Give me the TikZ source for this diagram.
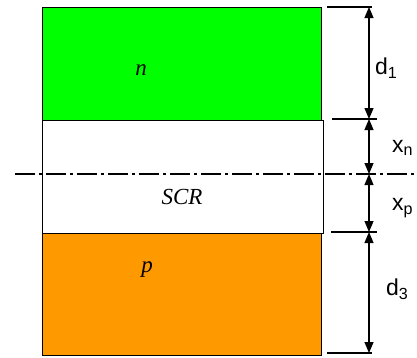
\documentclass[tikz,border=0pt]{standalone}
\usepackage{fontspec}
\setmainfont{Liberation Serif}
\newfontfamily\arial{Liberation Sans}
\usetikzlibrary{arrows.meta,positioning}
\definecolor{ngreen}{RGB}{0,255,0}
\definecolor{porange}{RGB}{255,153,0}

\begin{document}
\begin{tikzpicture}[x=1pt,y=-1pt,
 layer/.style={draw=black,line width=1.4pt,anchor=north west,inner sep=0pt},
 reglab/.style={font=\fontsize{23}{25}\selectfont\itshape,inner sep=0pt},
 dimlab/.style={font=\arial\fontsize{23}{25}\selectfont,inner sep=0pt,anchor=west},
 ext/.style={line width=1.3pt},
 dim/.style={line width=1.2pt,{Triangle[length=11pt,width=9pt]}-{Triangle[length=11pt,width=9pt]}}]
\useasboundingbox (0,0) rectangle (417,357);
% layers
\node[layer,fill=ngreen,minimum width=279pt,minimum height=113pt] (nreg) at (42,7) {};
\node[layer,fill=white,minimum width=281pt,minimum height=113pt] (scr) at (42,120) {};
\node[layer,fill=porange,minimum width=279pt,minimum height=122pt] (preg) at (42,233) {};
\node[reglab] (nlab) at (141,70) {n};
\node[reglab] (scrlab) at (182,197) {SCR};
\node[reglab] (plab) at (147,270) {p};
% axis
\coordinate (axl) at (15,174);
\coordinate (axr) at (417,174);
\draw[line width=1.3pt,dash pattern=on 20pt off 4pt on 3pt off 4pt] (axl) -- (axr);
% extension lines
\coordinate (e1a) at (327,7);   \coordinate (e1b) at (372,7);
\coordinate (e2a) at (332,119); \coordinate (e2b) at (377,119);
\coordinate (e3a) at (331,232); \coordinate (e3b) at (377,232);
\coordinate (e4a) at (327,353); \coordinate (e4b) at (372,353);
\draw[ext] (e1a) -- (e1b);
\draw[ext] (e2a) -- (e2b);
\draw[ext] (e3a) -- (e3b);
\draw[ext] (e4a) -- (e4b);
% dimensions
\coordinate (m1) at (369,7);
\coordinate (m2) at (369,119);
\coordinate (m3) at (369,174);
\coordinate (m4) at (369,232);
\coordinate (m5) at (369,353);
\draw[dim] (m1) -- (m2);
\draw[dim] (m2) -- (m3);
\draw[dim] (m3) -- (m4);
\draw[dim] (m4) -- (m5);
\node[dimlab] (d1) at (375,68) {d\textsubscript{1}};
\node[dimlab] (xn) at (392,148) {x\textsubscript{n}};
\node[dimlab] (xp) at (392,208) {x\textsubscript{p}};
\node[dimlab] (d3) at (386,289) {d\textsubscript{3}};
\end{tikzpicture}
\end{document}
